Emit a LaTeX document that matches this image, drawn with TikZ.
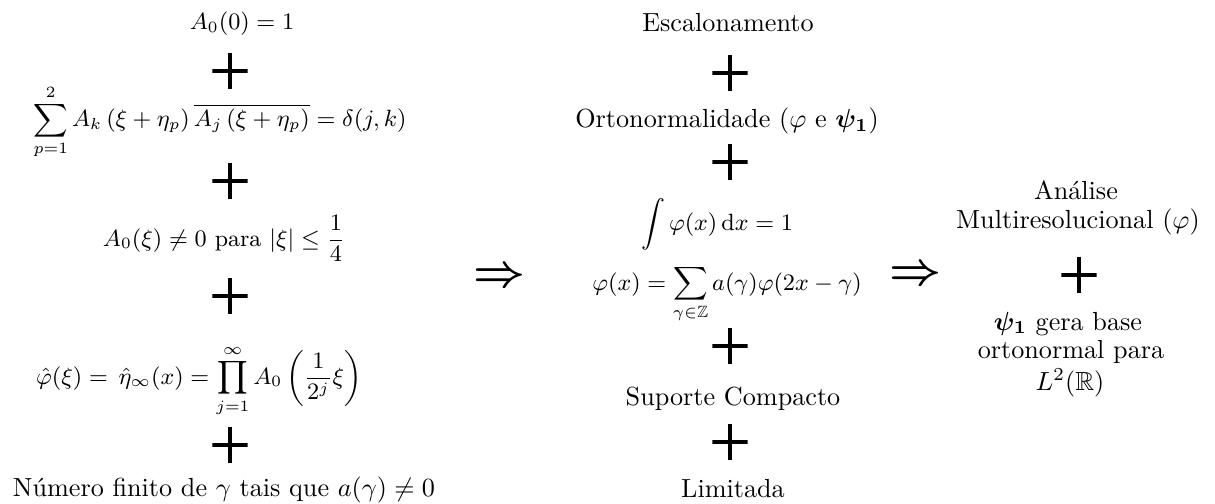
\documentclass[tikz,border=0pt]{standalone}
\usepackage{amsmath,amssymb,bm}
\begin{document}
\begin{tikzpicture}[x=0.382pt,y=-0.382pt,
  txt/.style={anchor=base,inner sep=0pt,outer sep=0pt},
  mth/.style={txt,font=\fontsize{8.9}{10.7}\selectfont},
  plussign/.style={minimum size=13.4pt,inner sep=0pt,outer sep=0pt,
    path picture={\draw[line width=1.5pt]
      (path picture bounding box.north) -- (path picture bounding box.south)
      (path picture bounding box.west) -- (path picture bounding box.east);}},
  implies/.style={inner sep=0pt,outer sep=0pt,font=\fontsize{16.5}{20}\selectfont}]
\useasboundingbox (0,0) rectangle (1215,504);
% left column
\node[mth] (l1) at (242,30) {$A_0(0)=1$};
\node[plussign] (lp1) at (230,71) {};
\node[mth] (l2) at (220,127) {$\displaystyle\sum_{p=1}^{2} A_k\left(\xi+\eta_p\right)\overline{A_j\left(\xi+\eta_p\right)}=\delta(j,k)$};
\node[plussign] (lp2) at (230,181) {};
\node[mth] (l3) at (224,246) {$A_0(\xi)\neq 0$ para $|\xi|\leq\displaystyle\frac{1}{4}$};
\node[plussign] (lp3) at (230,296) {};
\node[mth] (l4) at (199,384) {$\hat{\varphi}(\xi)=\,\hat{\eta}_\infty(x)=\displaystyle\prod_{j=1}^{\infty}A_0\left(\frac{1}{2^j}\xi\right)$};
\node[plussign] (lp4) at (230,445) {};
\node[txt] (l5) at (224,496) {Número finito de $\gamma$ tais que $a(\gamma)\neq 0$};
% first implication
\node[implies] (i1) at (500,278) {$\bm{\Rightarrow}$};
% middle column
\node[txt] (m1) at (728,32) {Escalonamento};
\node[plussign] (mp1) at (730,73) {};
\node[txt] (m2) at (727,128) {Ortonormalidade ($\varphi$ e $\bm{\psi_1}$)};
\node[plussign] (mp2) at (730,162) {};
\node[mth] (m3) at (717,230) {$\displaystyle\int\varphi(x)\,\mathrm{d}x=1$};
\node[mth] (m4) at (727,290) {$\varphi(x)=\displaystyle\sum_{\gamma\in\mathbb{Z}}a(\gamma)\varphi(2x-\gamma)$};
\node[plussign] (mp3) at (730,346) {};
\node[txt] (m5) at (733,405) {Suporte Compacto};
\node[plussign] (mp4) at (730,442) {};
\node[txt] (m6) at (733,497) {Limitada};
% second implication
\node[implies] (i2) at (915,276) {$\bm{\Rightarrow}$};
% right column
\node[txt] (r1a) at (1076,199) {Análise};
\node[txt] (r1b) at (1078,228) {Multiresolucional ($\varphi$)};
\node[plussign] (rp1) at (1079,275) {};
\node[txt] (r2a) at (1068,330) {$\bm{\psi_1}$ gera base};
\node[txt] (r2b) at (1071,358) {ortonormal para};
\node[txt] (r2c) at (1070,390) {$L^{2}(\mathbb{R})$};
\end{tikzpicture}
\end{document}
